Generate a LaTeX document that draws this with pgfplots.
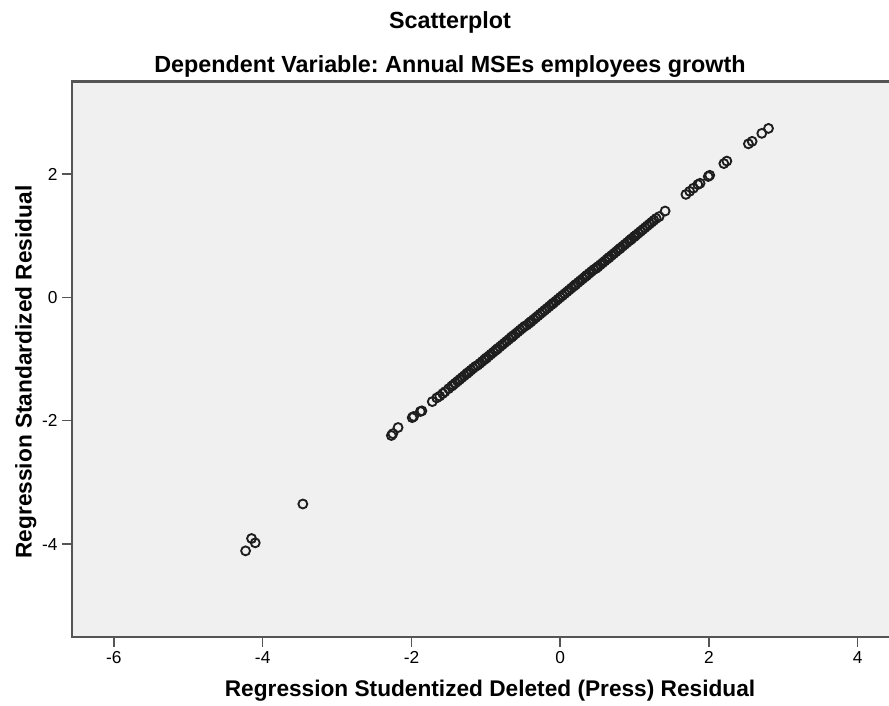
\documentclass[border=0pt]{standalone}
\usepackage{pgfplots}
\pgfplotsset{compat=1.18}
\usepackage{fontspec}
\setmainfont{Liberation Sans}
\frenchspacing
\definecolor{plotbg}{HTML}{F0F0F0}
\definecolor{framec}{HTML}{555555}
\definecolor{markc}{HTML}{1E1E1E}
\begin{document}
\begin{tikzpicture}
\begin{axis}[
  at={(0pt,0pt)}, anchor=south west,
  scale only axis,
  width=612.5pt, height=416.25pt,
  xmin=-6.56, xmax=4.42,
  ymin=-5.5, ymax=3.5,
  xtick={-6,-4,-2,0,2,4},
  ytick={-4,-2,0,2},
  xtick pos=left, ytick pos=left,
  tick align=outside,
  major tick length=7.5pt,
  tick style={framec, line width=1.1pt},
  axis line style={draw=none},
  axis background/.style={fill=plotbg},
  /pgf/number format/assume math mode=true,
  ticklabel style={font=\fontsize{13}{15}\selectfont},
  clip=false,
]
\addplot[only marks, mark=o, mark size=3.35pt, mark options={draw=markc, line width=1.4pt}] coordinates {
(-1.44,-1.42) (-1.41,-1.39) (-1.38,-1.36) (-1.35,-1.33) (-1.32,-1.30) (-1.29,-1.27) (-1.26,-1.24) (-1.23,-1.21) (-1.20,-1.18) (-1.17,-1.15) (-1.14,-1.12) (-1.11,-1.10) (-1.08,-1.07) (-1.05,-1.04) (-1.02,-1.01) (-0.99,-0.98) (-0.96,-0.95) (-0.93,-0.92) (-0.90,-0.89) (-0.87,-0.86) (-0.84,-0.83) (-0.81,-0.80) (-0.78,-0.77) (-0.75,-0.74) (-0.72,-0.71) (-0.69,-0.68) (-0.66,-0.65) (-0.63,-0.62) (-0.60,-0.59) (-0.57,-0.56) (-0.54,-0.53) (-0.51,-0.50) (-0.48,-0.47) (-0.45,-0.45) (-0.42,-0.42) (-0.39,-0.39) (-0.36,-0.36) (-0.33,-0.33) (-0.30,-0.30) (-0.27,-0.27) (-0.24,-0.24) (-0.21,-0.21) (-0.18,-0.18) (-0.15,-0.15) (-0.12,-0.12) (-0.09,-0.09) (-0.06,-0.06) (-0.03,-0.03) (0.00,0.00) (0.03,0.03) (0.06,0.06) (0.09,0.09) (0.12,0.12) (0.15,0.15) (0.18,0.18) (0.21,0.21) (0.24,0.24) (0.27,0.27) (0.30,0.30) (0.33,0.33) (0.36,0.36) (0.39,0.39) (0.42,0.42) (0.45,0.45) (0.48,0.47) (0.51,0.50) (0.54,0.53) (0.57,0.56) (0.60,0.59) (0.63,0.62) (0.66,0.65) (0.69,0.68) (0.72,0.71) (0.75,0.74) (0.78,0.77) (0.81,0.80) (0.84,0.83) (0.87,0.86) (0.90,0.89) (0.93,0.92) (0.96,0.95) (0.99,0.98) (1.02,1.01) (1.05,1.04) (1.08,1.07) (1.11,1.10) (1.14,1.13) (1.17,1.16) (1.20,1.19) (1.23,1.22) (1.26,1.25) (1.29,1.28) (1.33,1.31) (1.41,1.40)
(-0.40,-0.40) (-0.10,-0.10) (0.20,0.20) (0.50,0.49) (0.35,0.35) (0.65,0.64) (0.80,0.79) (0.95,0.94) (1.00,0.99) (-0.65,-0.64) (-0.85,-0.84) (-1.00,-0.99) (-1.25,-1.23)
(-1.46,-1.44) (-1.50,-1.48) (-1.55,-1.53) (-1.58,-1.56) (-1.62,-1.60) (-1.66,-1.63) (-1.72,-1.69) (-1.86,-1.84) (-1.88,-1.85) (-1.97,-1.93) (-1.99,-1.95) (-2.18,-2.11) (-2.25,-2.21) (-2.27,-2.24) (-3.46,-3.35) (-4.10,-3.98) (-4.15,-3.91) (-4.23,-4.11)
(1.69,1.67) (1.74,1.72) (1.79,1.77) (1.85,1.83) (1.88,1.85) (1.99,1.96) (2.01,1.98) (2.20,2.17) (2.24,2.21) (2.53,2.49) (2.58,2.53) (2.71,2.66) (2.80,2.74)
};
\draw[framec, line width=1.6pt] (rel axis cs:1,1) -- (rel axis cs:0,1) -- (rel axis cs:0,0) -- (rel axis cs:1,0);
\end{axis}
\node[anchor=base, font=\fontsize{17.5}{20}\selectfont\bfseries] at (283.3pt,456.2pt) {Scatterplot};
\node[anchor=base, font=\fontsize{17.5}{20}\selectfont\bfseries] at (283.3pt,423pt) {Dependent Variable: Annual MSEs employees growth};
\node[anchor=base, font=\fontsize{17}{20}\selectfont\bfseries] at (313.3pt,-45pt) {Regression Studentized Deleted (Press) Residual};
\node[anchor=base, rotate=90, font=\fontsize{17}{20}\selectfont\bfseries] at (-30.45pt,198.4pt) {Regression Standardized Residual};
\pgfresetboundingbox
\path (-54.2pt,-51.4pt) rectangle (612.5pt,477.4pt);
\end{tikzpicture}
\end{document}
